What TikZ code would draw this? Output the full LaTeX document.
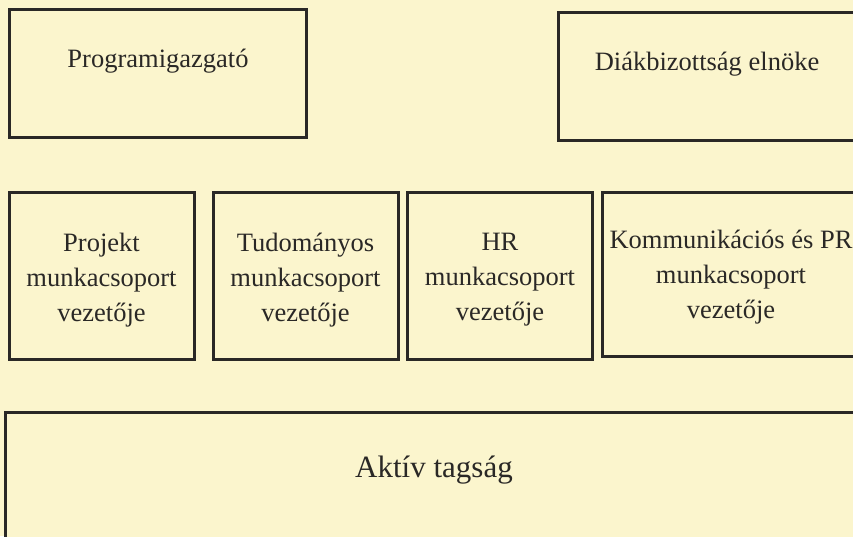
\documentclass[tikz,border=0pt]{standalone}
\usepackage{fontspec}
\setmainfont{Liberation Serif}
\usetikzlibrary{positioning}
\definecolor{paper}{HTML}{FBF5CD}
\definecolor{ink}{HTML}{2A2826}
\begin{document}
\begin{tikzpicture}[x=1pt, y=1pt,
    box/.style={rectangle, draw=ink, line width=3pt, fill=paper, inner sep=0pt},
    unit/.style={box, minimum width=185pt, minimum height=166pt},
    lbl/.style={text=ink, align=center, font=\fontsize{26.5}{35}\selectfont}
]
% Page
\fill[paper] (0,0) rectangle (853,536);
\clip (0,0) rectangle (853,536);

% Top row
\node[box, minimum width=297pt, minimum height=128pt] (prog) at (157.5,462) {};
\node[lbl, anchor=base] (progtxt) at (158,468) {Programigazgató};
\node[box, minimum width=300pt, minimum height=128pt] (diak) at (708,459) {};
\node[lbl, anchor=base] (diaktxt) at (707,465) {Diákbizottság elnöke};

% Working group leaders
\node[unit] (proj) at (101.5,260) {};
\node[lbl] (projtxt) at ([yshift=-4pt]proj.center) {Projekt\\munkacsoport\\vezetője};
\node[unit] (tud) at (305.5,260) {};
\node[lbl] (tudtxt) at ([yshift=-4pt]tud.center) {Tudományos\\munkacsoport\\vezetője};
\node[unit] (hr) at (500,260) {};
\node[lbl] (hrtxt) at ([yshift=-4pt]hr.center) {HR\\munkacsoport\\vezetője};
\node[box, minimum width=268pt, minimum height=163pt] (komm) at (736,261.5) {};
\node[lbl] (kommtxt) at (731,259) {Kommunikációs és PR\\munkacsoport\\vezetője};

% Members
\node[box, minimum width=862pt, minimum height=135pt] (aktiv) at (436,56) {};
\node[lbl, anchor=base, font=\fontsize{31}{37}\selectfont] (aktivtxt) at (434,59) {Aktív tagság};

\end{tikzpicture}
\end{document}
